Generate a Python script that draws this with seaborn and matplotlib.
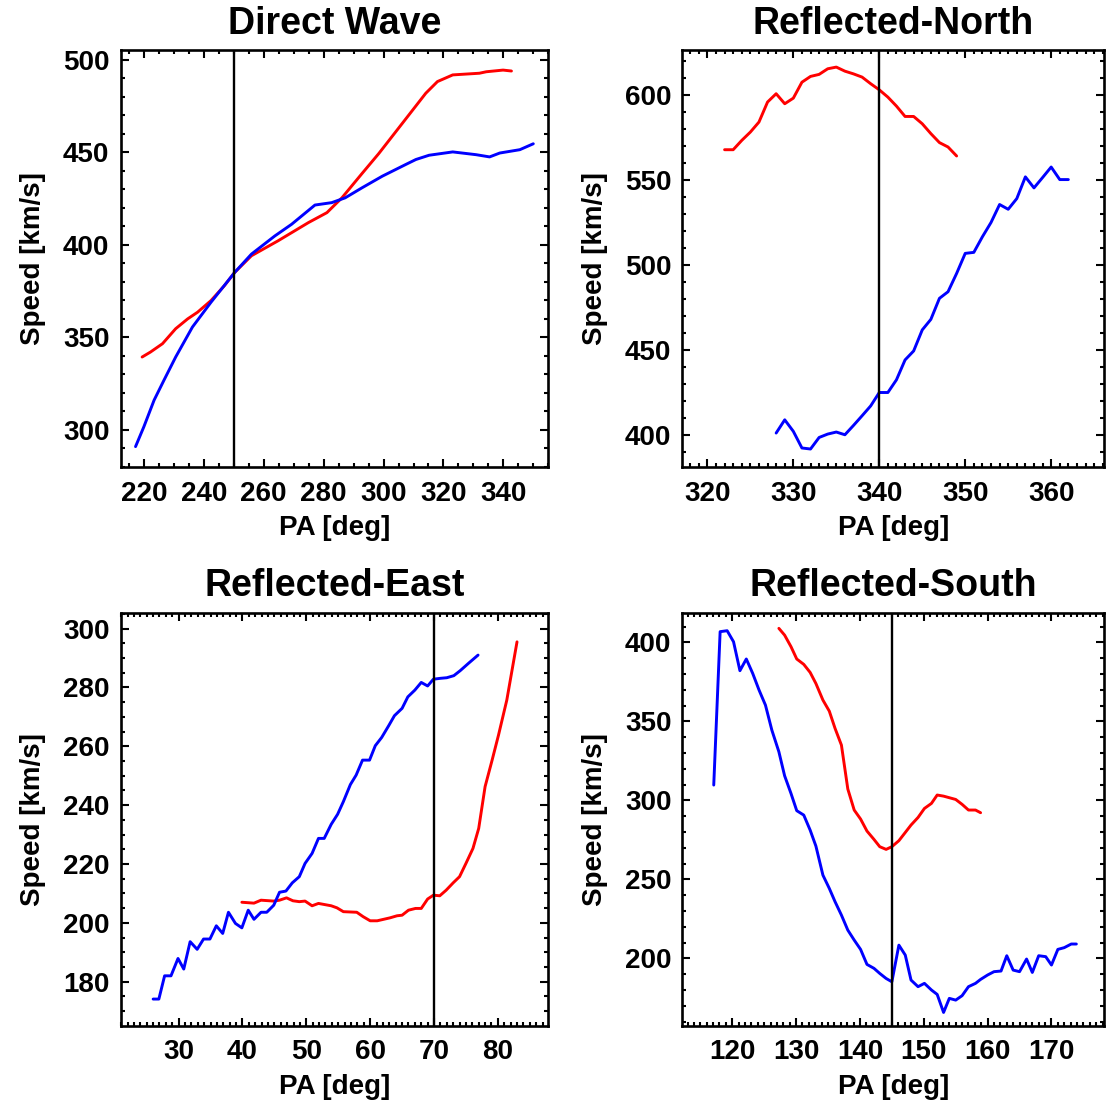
import numpy as np
import pandas as pd
import matplotlib
matplotlib.use("Agg")
import matplotlib.pyplot as plt
import seaborn as sns
from matplotlib.ticker import MultipleLocator

# Direct Wave
direct_pa_red = [219.4, 222.2, 226.2, 230.6, 234.6, 237.9, 242.4, 246.9, 250.3, 255.9, 264.8, 274.9,
                 281.1, 286.1, 292.8, 298.4, 306.3, 314.1, 318.0, 323.1, 332.0, 334.3, 339.9, 342.7]
direct_v_red = [339.4, 342.1, 346.6, 354.7, 360.0, 363.6, 369.9, 378.0, 385.1, 394.1, 402.2, 412.0,
                417.4, 425.4, 438.5, 449.3, 465.7, 481.9, 488.2, 491.8, 492.7, 493.5, 494.4, 493.9]
direct_pa_blue = [217.2, 220.0, 223.4, 226.7, 230.6, 236.2, 242.4, 250.3, 255.9, 263.7, 269.3, 277.1,
                  282.7, 287.2, 292.8, 299.6, 307.4, 310.8, 315.2, 323.1, 330.9, 335.4, 338.8, 345.5, 350.0]
direct_v_blue = [291.0, 301.8, 316.1, 326.9, 339.4, 355.6, 369.0, 385.1, 395.0, 404.8, 411.1, 421.5,
                 422.8, 425.4, 430.8, 437.1, 443.4, 446.1, 448.4, 450.2, 448.7, 447.5, 449.6, 451.4, 454.6]

# Reflected-North
north_pa_red = list(range(322, 350))
north_v_red = [568.0, 568.0, 573.5, 578.4, 584.3, 596.1, 601.0, 595.1, 598.4, 607.8, 611.2, 612.4,
               615.7, 616.7, 614.3, 612.7, 610.8, 606.9, 603.3, 599.0, 593.7, 587.6, 587.6, 583.3,
               577.5, 572.2, 569.6, 564.3]
north_pa_blue = list(range(328, 363))
north_v_blue = [401.0, 408.8, 402.0, 392.2, 391.6, 398.4, 400.4, 401.6, 400.0, 405.5, 411.2, 417.0,
                424.9, 424.9, 432.4, 444.1, 449.4, 461.8, 468.0, 480.4, 484.3, 495.1, 506.9, 507.5,
                516.7, 525.1, 535.7, 532.9, 539.2, 552.0, 545.5, 551.6, 557.8, 550.4, 550.4]

# Reflected-East
east_pa_blue = [26.0, 26.9, 27.8, 28.8, 29.9, 30.8, 31.8, 32.9, 33.9, 34.9, 35.9, 36.9, 37.8, 38.9,
                39.9, 40.9, 41.8, 42.9, 43.8, 44.9, 45.8, 46.8, 47.8, 48.9, 49.8, 50.9, 51.9, 52.8,
                53.9, 54.9, 55.8, 56.9, 57.8, 58.8, 59.9, 60.8, 61.8, 62.9, 63.8, 65.0, 65.9, 67.0,
                68.0, 69.0, 69.9, 71.0, 72.0, 73.1, 74.1, 75.4, 76.9]
east_v_blue = [174.1, 174.1, 182.0, 182.0, 187.9, 184.3, 193.6, 191.0, 194.5, 194.5, 199.0, 196.4,
               203.6, 199.8, 198.3, 204.3, 201.2, 203.6, 203.6, 206.0, 210.4, 210.8, 213.6, 215.7,
               220.2, 223.6, 228.7, 228.7, 233.5, 236.9, 241.2, 247.0, 250.2, 255.3, 255.3, 260.2,
               263.0, 267.0, 270.4, 272.9, 276.8, 279.1, 281.7, 280.5, 282.8, 283.1, 283.3, 284.0,
               285.7, 288.2, 291.0]
east_pa_red = [39.9, 41.8, 42.9, 44.9, 45.8, 46.9, 47.9, 48.9, 49.8, 50.9, 51.9, 53.9, 54.8, 55.8,
               57.9, 58.9, 60.0, 61.1, 63.1, 64.2, 65.0, 66.0, 67.1, 68.0, 69.0, 69.9, 70.9, 71.9,
               73.0, 74.0, 75.0, 76.1, 77.0, 78.0, 79.1, 80.1, 81.4, 83.0]
east_v_red = [207.0, 206.7, 207.7, 207.4, 207.7, 208.5, 207.5, 207.2, 207.4, 205.8, 206.6, 205.8,
              205.1, 203.8, 203.6, 202.1, 200.7, 200.7, 201.7, 202.4, 202.6, 204.3, 204.9, 204.9,
              208.1, 209.4, 209.2, 211.1, 213.6, 215.7, 220.2, 225.3, 232.1, 246.3, 255.3, 263.8,
              275.7, 295.5]

# Reflected-South
south_pa_blue = [117.1, 118.1, 119.2, 120.2, 121.2, 122.2, 123.2, 124.2, 125.2, 126.2, 127.3, 128.2,
                 129.2, 130.1, 131.2, 132.2, 133.1, 134.2, 135.2, 136.1, 137.1, 138.1, 139.1, 140.1,
                 141.1, 142.2, 143.1, 144.1, 145.0, 146.1, 147.1, 148.0, 149.1, 150.1, 151.2, 152.1,
                 153.1, 154.0, 155.0, 156.0, 157.0, 158.1, 158.9, 160.0, 161.0, 162.1, 163.0, 164.0,
                 165.0, 166.1, 167.0, 168.0, 169.1, 170.0, 171.0, 172.0, 173.1, 173.9]
south_v_blue = [309.7, 406.8, 407.4, 400.4, 382.1, 389.5, 380.4, 369.8, 360.3, 344.5, 330.8, 315.6,
                304.4, 293.5, 290.7, 281.2, 271.1, 252.7, 244.3, 235.9, 227.4, 217.9, 211.6, 205.7,
                196.2, 193.7, 190.5, 187.3, 185.2, 208.4, 202.1, 186.3, 182.1, 184.2, 180.0, 177.2,
                165.8, 174.7, 173.6, 176.4, 182.1, 184.2, 186.7, 189.5, 191.6, 192.0, 201.7, 192.6,
                191.6, 199.6, 191.1, 201.7, 201.1, 195.8, 205.7, 206.8, 209.1, 209.1]
south_pa_red = [127.3, 128.2, 129.2, 130.1, 131.2, 132.2, 133.1, 134.2, 135.2, 136.1, 137.1, 138.1,
                139.1, 140.1, 141.1, 142.2, 143.1, 144.1, 145.0, 146.1, 147.1, 148.0, 149.1, 150.1,
                151.2, 152.1, 153.1, 154.0, 155.0, 156.0, 157.0, 158.1, 158.9]
south_v_red = [408.9, 404.6, 397.3, 389.5, 386.1, 381.0, 374.0, 363.5, 356.5, 345.6, 335.0, 307.2,
               293.9, 288.2, 280.6, 275.3, 270.7, 269.0, 270.7, 274.5, 279.7, 284.4, 289.2, 294.9,
               298.1, 303.4, 302.7, 301.7, 300.6, 297.5, 293.9, 293.9, 292.2]

titles = ["Direct Wave", "Reflected-North", "Reflected-East", "Reflected-South"]
vlines = [250, 340, 70, 145]

sns.set_theme(style="ticks")
plt.rcParams['font.family'] = ['Liberation Sans', 'DejaVu Sans']
plt.rcParams['font.weight'] = 'bold'
plt.rcParams['text.color'] = 'black'
plt.rcParams['axes.labelcolor'] = 'black'
plt.rcParams['xtick.color'] = 'black'
plt.rcParams['ytick.color'] = 'black'

fig = plt.figure(figsize=(11.07, 11.14), dpi=100)

panels = [
    dict(pos=[0.1089, 0.5808, 0.3864, 0.3739], xlim=(212.2, 355.0), ylim=(280, 505),
         xmaj=20, xmin=5, ymaj=50, ymin=10,
         red=(direct_pa_red, direct_v_red), blue=(direct_pa_blue, direct_v_blue)),
    dict(pos=[0.6165, 0.5808, 0.3812, 0.3739], xlim=(317.1, 366.2), ylim=(381, 626.5),
         xmaj=10, xmin=1, ymaj=50, ymin=10,
         red=(north_pa_red, north_v_red), blue=(north_pa_blue, north_v_blue)),
    dict(pos=[0.1089, 0.0794, 0.3864, 0.3706], xlim=(20.9, 87.9), ylim=(165.1, 305.4),
         xmaj=10, xmin=1, ymaj=20, ymin=5,
         red=(east_pa_red, east_v_red), blue=(east_pa_blue, east_v_blue)),
    dict(pos=[0.6165, 0.0794, 0.3812, 0.3706], xlim=(112.2, 178.3), ylim=(157.5, 418.8),
         xmaj=10, xmin=1, ymaj=50, ymin=10,
         red=(south_pa_red, south_v_red), blue=(south_pa_blue, south_v_blue)),
]

for p, title, vx in zip(panels, titles, vlines):
    ax = fig.add_axes(p['pos'])
    df_red = pd.DataFrame({'pa': p['red'][0], 'v': p['red'][1]})
    df_blue = pd.DataFrame({'pa': p['blue'][0], 'v': p['blue'][1]})
    sns.lineplot(data=df_red, x='pa', y='v', ax=ax, color='red', lw=2.1,
                 sort=False, estimator=None)
    sns.lineplot(data=df_blue, x='pa', y='v', ax=ax, color='blue', lw=2.1,
                 sort=False, estimator=None)
    ax.axvline(vx, color='black', lw=1.7)
    ax.set_xlim(*p['xlim'])
    ax.set_ylim(*p['ylim'])
    ax.xaxis.set_major_locator(MultipleLocator(p['xmaj']))
    ax.xaxis.set_minor_locator(MultipleLocator(p['xmin']))
    ax.yaxis.set_major_locator(MultipleLocator(p['ymaj']))
    ax.yaxis.set_minor_locator(MultipleLocator(p['ymin']))
    ax.tick_params(which='both', direction='in', top=True, right=True, width=1.5,
                   labelsize=20, color='black', labelcolor='black')
    ax.tick_params(axis='x', which='both', pad=10)
    ax.tick_params(axis='y', which='both', pad=8)
    ax.tick_params(which='major', length=6)
    ax.tick_params(which='minor', length=3)
    for lab in ax.get_xticklabels() + ax.get_yticklabels():
        lab.set_fontweight('bold')
    for s in ax.spines.values():
        s.set_linewidth(1.9)
        s.set_color('black')
    ax.set_xlabel('PA [deg]', fontsize=20, fontweight='bold', labelpad=6)
    ax.set_ylabel('Speed [km/s]', fontsize=20, fontweight='bold', labelpad=12)
    ax.set_title(title, fontsize=27, fontweight='bold', pad=12, color='black')

fig.savefig('out.png', dpi=100)
